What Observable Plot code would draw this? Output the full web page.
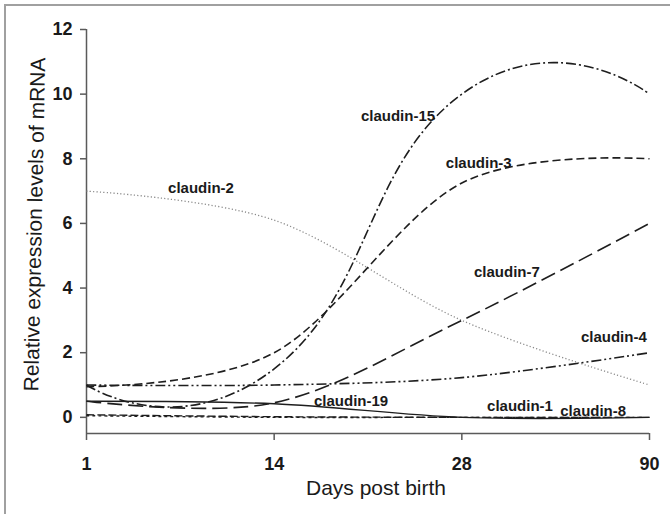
<!DOCTYPE html>
<html><head><meta charset="utf-8">
<script src="https://cdn.jsdelivr.net/npm/d3@7"></script>
<script src="https://cdn.jsdelivr.net/npm/@observablehq/plot@0.6"></script>
<style>
body{margin:0;background:#fff;}
#wrap{position:relative;width:670px;height:514px;overflow:hidden;background:#fff;}
#border{position:absolute;left:4px;top:4px;width:720px;height:620px;border-left:2px solid #a0a0a0;border-top:2px solid #a0a0a0;}
#chart{position:absolute;left:0;top:0;}
#chart svg{font-family:Arial,"Liberation Sans",sans-serif;}
</style></head><body>
<div id="wrap"><div id="border"></div><div id="chart"></div></div>
<script>
// Tick labels (x categories) and y ticks
const days = ["1", "14", "28", "90"];
const yTicks = [0, 2, 4, 6, 8, 10, 12];
const yDomain = [-0.5, 12];

// Series values at days 1, 14, 28, 90
const claudin2 = [7.0, 6.1, 3.0, 1.0];
const claudin15 = [1.0, 1.5, 10.0, 10.0];
const claudin3 = [0.95, 2.0, 7.25, 8.0];
const claudin7 = [0.5, 0.45, 3.0, 6.0];
const claudin4 = [1.0, 1.0, 1.23, 2.0];
const claudin19 = [0.5, 0.42, 0.0, 0.0];
const claudin1 = [0.08, 0.02, 0.0, 0.0];
const claudin8 = [0.05, 0.0, 0.0, 0.0];

const seriesNames = ["claudin-2", "claudin-15", "claudin-3", "claudin-7", "claudin-4", "claudin-19", "claudin-1", "claudin-8"];
const seriesValues = [claudin2, claudin15, claudin3, claudin7, claudin4, claudin19, claudin1, claudin8];

// Label anchor positions (day index, value)
const labelX = [0.61, 1.66, 2.09, 2.24, 2.81, 1.41, 2.31, 2.70];
const labelY = [7.1, 9.32, 7.87, 4.48, 2.47, 0.49, 0.34, 0.19];

// Styles
const styles = {
  "claudin-2": {stroke: "#8a8a8a", width: 1.3, dash: "1.2,2.2", tension: 0},
  "claudin-15": {stroke: "#1e1e1e", width: 1.6, dash: "10,3,2,3", tension: -0.55},
  "claudin-3": {stroke: "#1e1e1e", width: 1.6, dash: "8,4", tension: 0},
  "claudin-7": {stroke: "#1e1e1e", width: 1.6, dash: "15,6", tension: 0},
  "claudin-4": {stroke: "#1e1e1e", width: 1.6, dash: "10,3,2,3,2,3", tension: 0},
  "claudin-19": {stroke: "#1e1e1e", width: 1.4, dash: "none", tension: 0},
  "claudin-1": {stroke: "#1e1e1e", width: 1.4, dash: "8,3", tension: 0},
  "claudin-8": {stroke: "#1e1e1e", width: 1.4, dash: "3,3", tension: 0}
};

const lineMarks = seriesNames.map((name, s) => {
  const rows = days.map((d, i) => ({x: i, y: seriesValues[s][i]}));
  const st = styles[name];
  return Plot.line(rows, {x: "x", y: "y", curve: "cardinal", tension: st.tension, stroke: st.stroke, strokeWidth: st.width, strokeDasharray: st.dash, strokeLinecap: "butt"});
});

const labels = seriesNames.map((n, i) => ({name: n, x: labelX[i], y: labelY[i]}));

const axisColor = "#5a5a5a";
const textColor = "#1a1a1a";

const chart = Plot.plot({
  width: 670,
  height: 514,
  marginLeft: 86,
  marginRight: 21,
  marginTop: 29,
  marginBottom: 81,
  x: {domain: [0, days.length - 1]},
  y: {domain: yDomain},
  marks: [
    Plot.ruleX([0], {y1: yDomain[0], y2: yDomain[1], stroke: axisColor, strokeWidth: 1.5}),
    Plot.ruleY([yDomain[0]], {x1: 0, x2: days.length - 1, stroke: axisColor, strokeWidth: 1.5}),
    Plot.axisY({ticks: yTicks, tickSize: 6, tickPadding: 8, fontSize: 18, fontWeight: "bold", stroke: axisColor, fill: textColor, label: null, strokeWidth: 1.5}),
    Plot.axisX({ticks: d3.range(days.length), tickFormat: i => days[i], tickSize: 7, tickPadding: 17, fontSize: 18, fontWeight: "bold", stroke: axisColor, fill: textColor, label: null, strokeWidth: 1.5}),
    ...lineMarks,
    Plot.text(labels, {x: "x", y: "y", text: "name", fontSize: 15, fontWeight: "bold", fill: textColor, textAnchor: "middle", lineAnchor: "middle"}),
    Plot.text(["Relative expression levels of mRNA"], {frameAnchor: "left", rotate: -88.8, dx: -51.5, dy: -7, fontSize: 21, fill: textColor, textAnchor: "middle", lineAnchor: "middle"}),
    Plot.text(["Days post birth"], {frameAnchor: "bottom", dx: 8, dy: 55, fontSize: 21, fill: textColor, textAnchor: "middle", lineAnchor: "middle"})
  ]
});
document.getElementById("chart").appendChild(chart);
</script>
</body></html>
